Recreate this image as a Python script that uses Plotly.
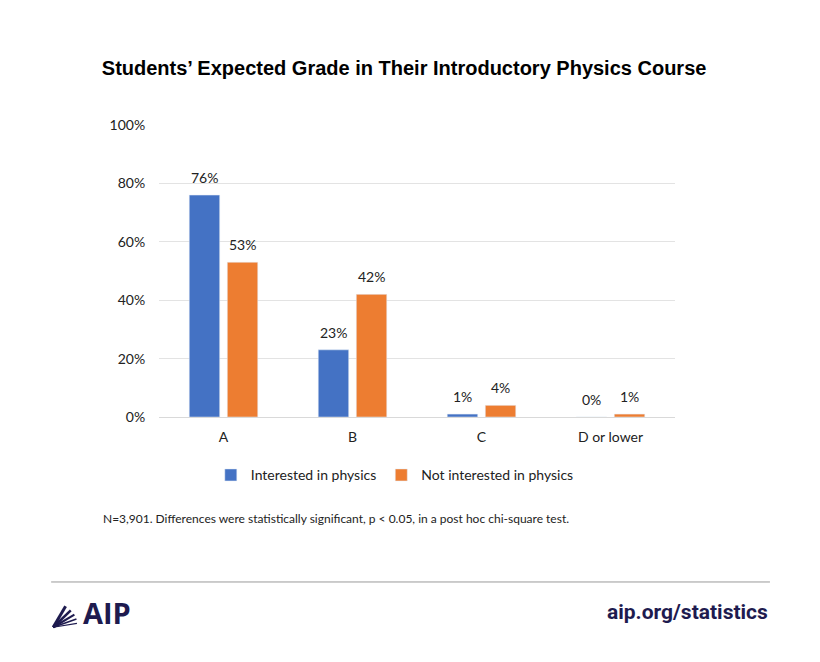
import plotly.graph_objects as go

grades = ["A", "B", "C", "D or lower"]
interested = [76, 23, 1, 0]
not_interested = [53, 42, 4, 1]
y_ticks = [0, 20, 40, 60, 80, 100]

blue = "#4472C4"
orange = "#ED7D31"
navy = "#1E1B4F"

fig = go.Figure()
fig.add_trace(go.Bar(x=grades, y=interested, name="Interested in physics",
                     marker=dict(color=blue)))
fig.add_trace(go.Bar(x=grades, y=not_interested, name="Not interested in physics",
                     marker=dict(color=orange)))

# value labels above the bars
for vals, shift in [(interested, -19), (not_interested, 19)]:
    for g, v in zip(grades, vals):
        fig.add_annotation(x=g, y=v, text=f"{v}%", xshift=shift, yshift=7,
                           yanchor="bottom", showarrow=False,
                           font=dict(size=14, color="#222"))

fig.update_layout(
    width=820, height=662,
    paper_bgcolor="white", plot_bgcolor="white",
    font=dict(family="Lato, Open Sans, sans-serif", size=13, color="#222"),
    margin=dict(l=151, r=153, t=117, b=253),
    barmode="group", bargap=0.41, bargroupgap=0.2,
    title=dict(
        text="<b>Students’ Expected Grade in Their Introductory Physics Course</b>",
        xref="paper", x=0.475, xanchor="center", y=0.909, yanchor="middle",
        font=dict(family="Liberation Sans, Arial, sans-serif", size=20, color="black"),
    ),
    legend=dict(
        orientation="h", x=0.457, xanchor="center", y=-0.145, yanchor="top",
        font=dict(size=14), itemwidth=30, traceorder="normal",
    ),
    xaxis=dict(showline=True, linecolor="#d9d9d9", tickfont=dict(size=14),
               ticks="outside", ticklen=7, tickcolor="white"),
    yaxis=dict(
        range=[0, 100], tickvals=y_ticks, ticktext=[f"{v}%" for v in y_ticks],
        gridcolor="#e3e3e3", zeroline=False, tickfont=dict(size=14),
        ticks="outside", ticklen=10, tickcolor="white",
    ),
)

fig.add_annotation(
    text="N=3,901. Differences were statistically significant, p < 0.05, in a post hoc chi-square test.",
    xref="paper", yref="paper", x=-0.113, y=-0.349, xanchor="left", yanchor="middle",
    showarrow=False, font=dict(size=12, color="#222"),
)
fig.add_shape(type="line", xref="paper", yref="paper", x0=-0.209, x1=1.184,
              y0=-0.565, y1=-0.565, line=dict(color="#999", width=1))
fig.add_annotation(
    text="<b>aip.org/statistics</b>", xref="paper", yref="paper", x=1.184, y=-0.668,
    xanchor="right", yanchor="middle", showarrow=False,
    font=dict(family="Roboto, sans-serif", size=21, color=navy),
)
fig.add_annotation(
    text="<b>AIP</b>", xref="paper", yref="paper", x=-0.152, y=-0.668,
    xanchor="left", yanchor="middle", showarrow=False,
    font=dict(family="Open Sans, sans-serif", size=29, color=navy),
)
# fan icon of the logo
ox, oy = -0.205, -0.72
for i, (dx, dy) in enumerate([(0.024, 0.072), (0.034, 0.058), (0.041, 0.043), (0.045, 0.028), (0.046, 0.013)]):
    fig.add_shape(type="line", xref="paper", yref="paper",
                  x0=ox, y0=oy, x1=ox + dx, y1=oy + dy,
                  line=dict(color=navy, width=3 - i * 0.45))

fig.write_html("out.html")
